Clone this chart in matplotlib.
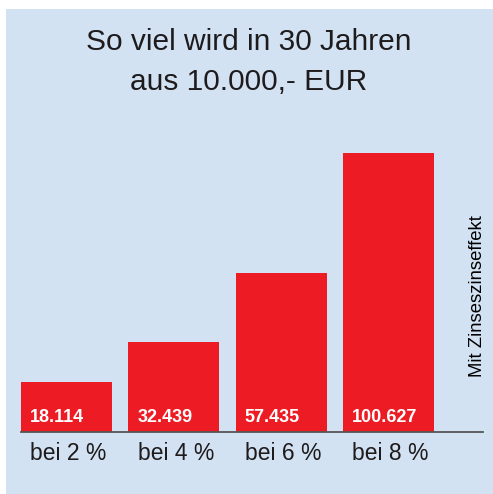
import matplotlib.pyplot as plt
from matplotlib.patches import Rectangle

# Endkapital nach 30 Jahren aus 10.000 EUR
categories = ["bei 2 %", "bei 4 %", "bei 6 %", "bei 8 %"]
values = [18.114, 32.439, 57.435, 100.627]
value_labels = ["18.114", "32.439", "57.435", "100.627"]

title = "So viel wird in 30 Jahren\naus 10.000,- EUR"
side_note = "Mit Zinseszinseffekt"

W, H = 493, 494
plt.rcParams["font.family"] = ["Liberation Sans", "DejaVu Sans"]

fig = plt.figure(figsize=(W / 100, H / 100), dpi=100)
fig.patch.set_facecolor("white")

# hellblaues Feld
fig.patches.append(Rectangle((6 / W, 0), 1 - 6 / W, 1 - 9 / H,
                             transform=fig.transFigure, facecolor="#d3e2f3",
                             edgecolor="none", zorder=-5))

ax = fig.add_axes([21 / W, 62 / H, (483 - 21) / W, (432 - 153) / H])
ax.set_facecolor("none")
ax.set_zorder(2)

unit = 107.33
width = 91 / unit
x = list(range(len(values)))
ax.bar(x, values, width=width, color="#ed1c24", zorder=2)
ax.set_xlim(-45.5 / unit, -45.5 / unit + (483 - 21) / unit)
ax.set_ylim(0, max(values))

for i, lab in enumerate(value_labels):
    ax.annotate(lab, xy=(i - width / 2, 0), xytext=(9, 15), textcoords="offset pixels",
                ha="left", va="center", color="white", fontsize=13,
                fontweight="bold")

ax.set_xticks([i + 0.02 for i in x])
ax.set_xticklabels(categories, fontsize=16.5, color="#1e1b1c")
ax.tick_params(axis="x", length=0, pad=7)
ax.set_yticks([])
for s in ["top", "left", "right"]:
    ax.spines[s].set_visible(False)
ax.spines["bottom"].set_color("#555555")
ax.spines["bottom"].set_linewidth(1.3)

fig.text(249 / W, 1 - 62 / H, title, ha="center", va="center", fontsize=21.5,
         color="#1e1b1c", linespacing=1.5)
fig.text(477 / W, 1 - 377 / H, side_note, rotation=90, ha="center", va="bottom",
         fontsize=13.3, color="black")

fig.savefig("out.png", dpi=100)
